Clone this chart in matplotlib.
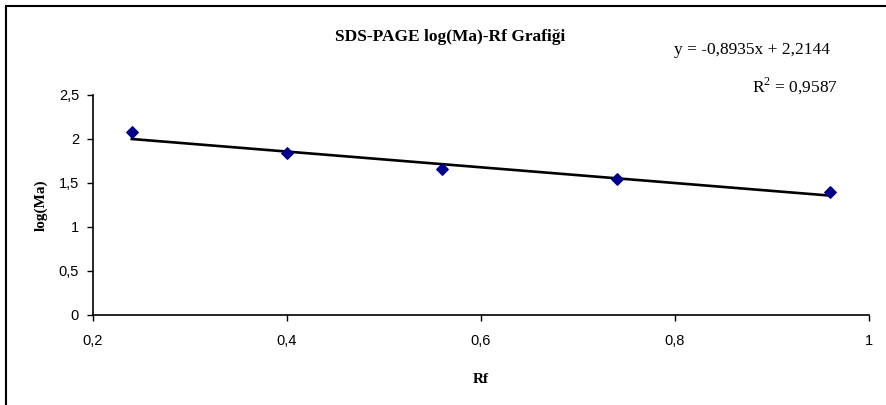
import matplotlib
matplotlib.use("Agg")
import matplotlib.pyplot as plt
from matplotlib.patches import Rectangle
from matplotlib.ticker import FuncFormatter

# values
rf = [0.24, 0.40, 0.56, 0.74, 0.96]
log_ma = [2.08, 1.84, 1.66, 1.55, 1.40]

# trendline as printed on the chart
slope = -0.8935
intercept = 2.2144
r2 = 0.9587

x_ticks = [0.2, 0.4, 0.6, 0.8, 1.0]
y_ticks = [0, 0.5, 1, 1.5, 2, 2.5]

plt.rcParams["mathtext.fontset"] = "custom"
plt.rcParams["mathtext.rm"] = "Liberation Serif"


def comma(v, pos=None):
    s = f"{v:g}"
    return s.replace(".", ",")


fig = plt.figure(figsize=(8.86, 4.05), dpi=100)
ax = fig.add_axes([93 / 886, 90 / 405, 776 / 886, 220 / 405])

ax.scatter(rf, log_ma, marker="D", s=34, color="#00008B", zorder=3)

fit_x = [min(rf), max(rf)]
fit_y = [slope * v + intercept for v in fit_x]
ax.plot(fit_x, fit_y, color="black", linewidth=1.9, zorder=2)

ax.set_xlim(0.2, 1.0)
ax.set_ylim(0, 2.5)
ax.set_xticks(x_ticks)
ax.set_yticks(y_ticks)
ax.xaxis.set_major_formatter(FuncFormatter(comma))
ax.yaxis.set_major_formatter(FuncFormatter(comma))

for lab in ax.get_xticklabels() + ax.get_yticklabels():
    lab.set_fontfamily("Liberation Sans")
    lab.set_fontsize(10.5)
ax.tick_params(direction="out", length=4, width=1, color="black")
ax.tick_params(axis="x", pad=10)
ax.tick_params(axis="y", pad=6)

ax.spines["top"].set_visible(False)
ax.spines["right"].set_visible(False)
ax.spines["left"].set_linewidth(1.2)
ax.spines["bottom"].set_linewidth(1.2)

serif = "Liberation Serif"
ax.set_xlabel("Rf", fontfamily=serif, fontweight="bold", fontsize=11, labelpad=18)
ax.set_ylabel("log(Ma)", fontfamily=serif, fontweight="bold", fontsize=11, labelpad=8)

fig.text(450 / 886, 1 - 37 / 405, "SDS-PAGE log(Ma)-Rf Grafiği", fontfamily=serif,
         fontweight="bold", fontsize=12.5, ha="center", va="center")

eq = f"y = {slope:.4f}x + {intercept:.4f}".replace(".", ",")
fig.text(752 / 886, 1 - 50 / 405, eq, fontfamily=serif, fontsize=12.5,
         ha="center", va="center")
fig.text(795 / 886, 1 - 86 / 405, f"R$^2$ = {r2:.4f}".replace(".", ","),
         fontfamily=serif, fontsize=12.5, ha="center", va="center")

fig.patches.append(Rectangle((6 / 886, -0.05), 1.0, 1 - 6 / 405 + 0.05,
                             transform=fig.transFigure, fill=False,
                             edgecolor="black", linewidth=1.5))

fig.savefig("out.png", dpi=100)
